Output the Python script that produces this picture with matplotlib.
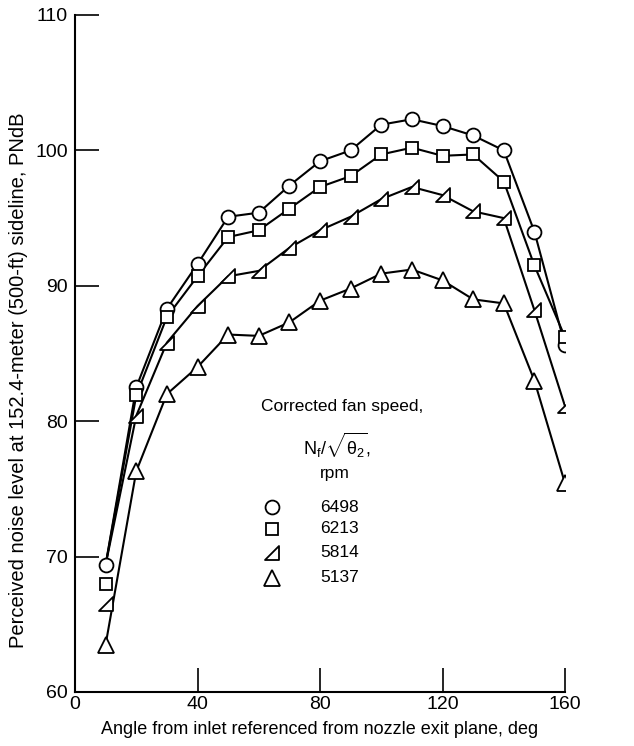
import numpy as np
import matplotlib
matplotlib.use('Agg')
import matplotlib.pyplot as plt
from matplotlib.path import Path

# ---------------------------------- Data ----------------------------------- #
angle = [10, 20, 30, 40, 50, 60, 70, 80, 90, 100, 110, 120, 130, 140, 150, 160]
pn_6498 = [69.4, 82.5, 88.3, 91.6, 95.1, 95.4, 97.4, 99.2, 100.0, 101.9, 102.3, 101.8, 101.1, 100.0, 94.0, 85.6]
pn_6213 = [68.0, 81.9, 87.7, 90.7, 93.6, 94.1, 95.7, 97.3, 98.1, 99.7, 100.2, 99.6, 99.7, 97.7, 91.5, 86.2]
pn_5814 = [66.5, 80.4, 85.8, 88.5, 90.7, 91.1, 92.8, 94.1, 95.1, 96.4, 97.3, 96.7, 95.5, 95.0, 88.2, 81.1]
pn_5137 = [63.5, 76.3, 82.0, 84.0, 86.4, 86.3, 87.3, 88.9, 89.8, 90.9, 91.2, 90.4, 89.0, 88.7, 83.0, 75.4]
speeds = ['6498', '6213', '5814', '5137']
xticks = [0, 40, 80, 120, 160]
yticks = [60, 70, 80, 90, 100, 110]

# ------------------------------ Style / fonts ------------------------------ #
plt.rcParams['font.family'] = ['Liberation Sans', 'DejaVu Sans']
plt.rcParams['mathtext.fontset'] = 'custom'
plt.rcParams['mathtext.rm'] = 'Liberation Sans'
plt.rcParams['mathtext.it'] = 'Liberation Sans'

# right-angle triangle marker (right angle at lower right)
tri_half = Path([(-1, -1), (1, -1), (1, 1), (-1, -1)],
                [Path.MOVETO, Path.LINETO, Path.LINETO, Path.CLOSEPOLY])
markers = ['o', 's', tri_half, '^']
msizes = [10, 9, 10, 11]
series = [pn_6498, pn_6213, pn_5814, pn_5137]

fig = plt.figure(figsize=(6.34, 7.46), dpi=100)
ax = fig.add_axes([0.1183, 0.0724, 0.7729, 0.9075])

for i, (y, m, ms) in enumerate(zip(series, markers, msizes)):
    yl = list(y)
    # the 6213 and 5814 curves run into the 6498 point at 10 deg in the original
    if i in (1, 2):
        yl[0] = pn_6498[0]
    ax.plot(angle, yl, color='black', lw=1.5, zorder=2)
    ax.plot(angle, y, ls='none', marker=m, ms=ms, mfc='white', mec='black',
            mew=1.3, zorder=3)

ax.set_xlim(0, 160)
ax.set_ylim(60, 110)
ax.set_xticks(xticks)
ax.set_yticks(yticks)
ax.tick_params(direction='in', length=17, width=1.2, labelsize=14, pad=5)
ax.tick_params(axis='x', pad=3)
for s in ['top', 'right']:
    ax.spines[s].set_visible(False)
for s in ['left', 'bottom']:
    ax.spines[s].set_linewidth(1.5)

ax.set_xlabel('Angle from inlet referenced from nozzle exit plane, deg', fontsize=13, va='center')
ax.xaxis.set_label_coords(0.5, -0.055)
ax.set_ylabel('Perceived noise level at 152.4-meter (500-ft) sideline, PNdB', fontsize=14.5, va='center')
ax.yaxis.set_label_coords(-0.115, 0.46)

# --------------------------------- Legend ---------------------------------- #
ax.text(87.2, 81.05, 'Corrected fan speed,', fontsize=12.5, ha='center', va='center')
ax.text(85.5, 78.24, r'N$_\mathregular{f}$/$\sqrt{\theta_2}$,', fontsize=13, ha='center', va='center')
ax.text(84.9, 76.17, 'rpm', fontsize=12.5, ha='center', va='center')
leg_y = [73.66, 72.04, 70.27, 68.42]
for m, ms, lab, yy in zip(markers, msizes, speeds, leg_y):
    ax.plot([64.3], [yy], ls='none', marker=m, ms=ms, mfc='white', mec='black', mew=1.3)
    ax.text(80.0, yy, lab, fontsize=12.5, ha='left', va='center')

plt.savefig('out.png', dpi=100)
plt.close()
